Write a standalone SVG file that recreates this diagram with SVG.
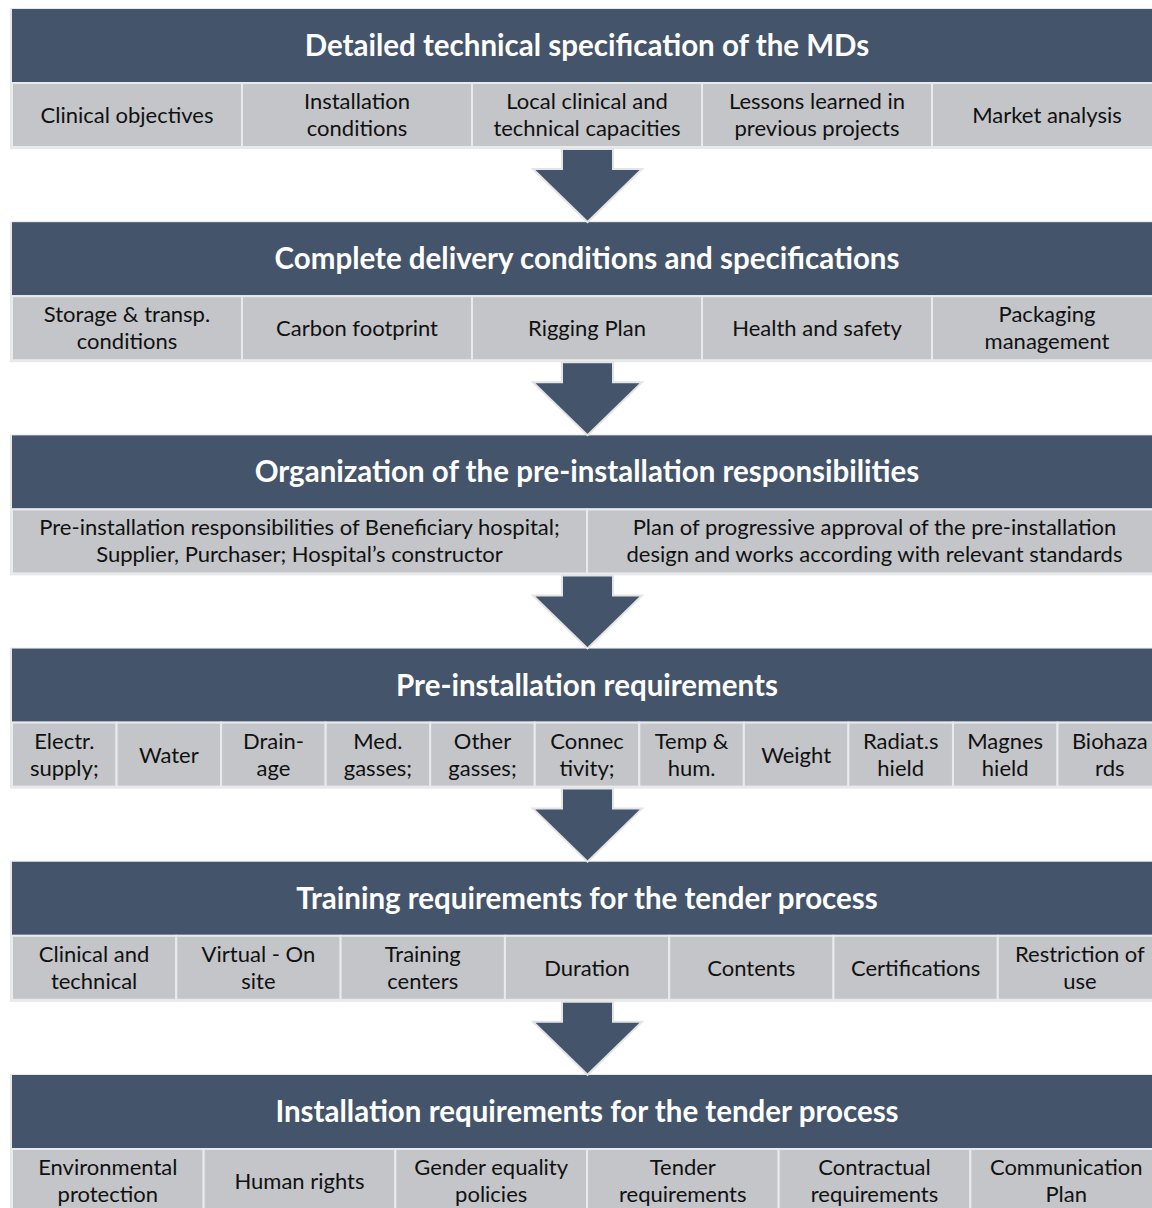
<svg xmlns="http://www.w3.org/2000/svg" width="1152" height="1208" viewBox="0 0 1152 1208">
<defs>
<style>
.frame{fill:#E6E7E9;}
.hdr{fill:#44546A;}
.cell{fill:#C3C5C9;stroke:#E9EAEC;stroke-width:2;}
.ht{font-family:Lato,"Open Sans",sans-serif;font-weight:700;font-size:29.5px;fill:#FFFFFF;text-anchor:middle;}
.ct{font-family:Lato,"Open Sans",sans-serif;font-size:22px;fill:#111111;text-anchor:middle;}
.arrow{fill:#44546A;stroke:#E3E4E6;stroke-width:2;stroke-linejoin:miter;}
</style>
</defs>
<rect width="1152" height="1208" fill="#FFFFFF"/>

<!-- Block 1 -->
<g id="block1">
<rect class="frame" x="10" y="8" width="1160" height="141"/>
<g id="b1-header"><rect class="hdr" x="12" y="9" width="1150" height="73"/><text class="ht" x="587" y="56">Detailed technical specification of the MDs</text></g>
<g id="b1-c1"><rect class="cell" x="12" y="83" width="230" height="64"/><text class="ct" x="127" y="123">Clinical objectives</text></g>
<g id="b1-c2"><rect class="cell" x="242" y="83" width="230" height="64"/><text class="ct" x="357" y="109">Installation</text><text class="ct" x="357" y="136">conditions</text></g>
<g id="b1-c3"><rect class="cell" x="472" y="83" width="230" height="64"/><text class="ct" x="587" y="109">Local clinical and</text><text class="ct" x="587" y="136">technical capacities</text></g>
<g id="b1-c4"><rect class="cell" x="702" y="83" width="230" height="64"/><text class="ct" x="817" y="109">Lessons learned in</text><text class="ct" x="817" y="136">previous projects</text></g>
<g id="b1-c5"><rect class="cell" x="932" y="83" width="230" height="64"/><text class="ct" x="1047" y="123">Market analysis</text></g>
</g>

<!-- Block 2 -->
<g id="block2" transform="translate(0,213.2)">
<rect class="frame" x="10" y="8" width="1160" height="141"/>
<g id="b2-header"><rect class="hdr" x="12" y="9" width="1150" height="73"/><text class="ht" x="587" y="56">Complete delivery conditions and specifications</text></g>
<g id="b2-c1"><rect class="cell" x="12" y="83" width="230" height="64"/><text class="ct" x="127" y="109">Storage &amp; transp.</text><text class="ct" x="127" y="136">conditions</text></g>
<g id="b2-c2"><rect class="cell" x="242" y="83" width="230" height="64"/><text class="ct" x="357" y="123">Carbon footprint</text></g>
<g id="b2-c3"><rect class="cell" x="472" y="83" width="230" height="64"/><text class="ct" x="587" y="123">Rigging Plan</text></g>
<g id="b2-c4"><rect class="cell" x="702" y="83" width="230" height="64"/><text class="ct" x="817" y="123">Health and safety</text></g>
<g id="b2-c5"><rect class="cell" x="932" y="83" width="230" height="64"/><text class="ct" x="1047" y="109">Packaging</text><text class="ct" x="1047" y="136">management</text></g>
</g>

<!-- Block 3 -->
<g id="block3" transform="translate(0,426.4)">
<rect class="frame" x="10" y="8" width="1160" height="141"/>
<g id="b3-header"><rect class="hdr" x="12" y="9" width="1150" height="73"/><text class="ht" x="587" y="56">Organization of the pre-installation responsibilities</text></g>
<g id="b3-c1"><rect class="cell" x="12" y="83" width="575" height="64"/><text class="ct" x="299.5" y="109">Pre-installation responsibilities of Beneficiary hospital;</text><text class="ct" x="299.5" y="136">Supplier, Purchaser; Hospital’s constructor</text></g>
<g id="b3-c2"><rect class="cell" x="587" y="83" width="575" height="64"/><text class="ct" x="874.5" y="109">Plan of progressive approval of the pre-installation</text><text class="ct" x="874.5" y="136">design and works according with relevant standards</text></g>
</g>

<!-- Block 4 -->
<g id="block4" transform="translate(0,639.6)">
<rect class="frame" x="10" y="8" width="1160" height="141"/>
<g id="b4-header"><rect class="hdr" x="12" y="9" width="1150" height="73"/><text class="ht" x="587" y="56">Pre-installation requirements</text></g>
<g id="b4-c1"><rect class="cell" x="12" y="83" width="104.55" height="64"/><text class="ct" x="64.3" y="109">Electr.</text><text class="ct" x="64.3" y="136">supply;</text></g>
<g id="b4-c2"><rect class="cell" x="116.55" y="83" width="104.55" height="64"/><text class="ct" x="168.8" y="123">Water</text></g>
<g id="b4-c3"><rect class="cell" x="221.1" y="83" width="104.55" height="64"/><text class="ct" x="273.4" y="109">Drain-</text><text class="ct" x="273.4" y="136">age</text></g>
<g id="b4-c4"><rect class="cell" x="325.65" y="83" width="104.55" height="64"/><text class="ct" x="377.9" y="109">Med.</text><text class="ct" x="377.9" y="136">gasses;</text></g>
<g id="b4-c5"><rect class="cell" x="430.2" y="83" width="104.55" height="64"/><text class="ct" x="482.5" y="109">Other</text><text class="ct" x="482.5" y="136">gasses;</text></g>
<g id="b4-c6"><rect class="cell" x="534.75" y="83" width="104.55" height="64"/><text class="ct" x="587" y="109">Connec</text><text class="ct" x="587" y="136">tivity;</text></g>
<g id="b4-c7"><rect class="cell" x="639.3" y="83" width="104.55" height="64"/><text class="ct" x="691.6" y="109">Temp &amp;</text><text class="ct" x="691.6" y="136">hum.</text></g>
<g id="b4-c8"><rect class="cell" x="743.85" y="83" width="104.55" height="64"/><text class="ct" x="796.1" y="123">Weight</text></g>
<g id="b4-c9"><rect class="cell" x="848.4" y="83" width="104.55" height="64"/><text class="ct" x="900.7" y="109">Radiat.s</text><text class="ct" x="900.7" y="136">hield</text></g>
<g id="b4-c10"><rect class="cell" x="952.95" y="83" width="104.55" height="64"/><text class="ct" x="1005.2" y="109">Magnes</text><text class="ct" x="1005.2" y="136">hield</text></g>
<g id="b4-c11"><rect class="cell" x="1057.5" y="83" width="104.55" height="64"/><text class="ct" x="1109.8" y="109">Biohaza</text><text class="ct" x="1109.8" y="136">rds</text></g>
</g>

<!-- Block 5 -->
<g id="block5" transform="translate(0,852.8)">
<rect class="frame" x="10" y="8" width="1160" height="141"/>
<g id="b5-header"><rect class="hdr" x="12" y="9" width="1150" height="73"/><text class="ht" x="587" y="56">Training requirements for the tender process</text></g>
<g id="b5-c1"><rect class="cell" x="12" y="83" width="164.3" height="64"/><text class="ct" x="94.1" y="109">Clinical and</text><text class="ct" x="94.1" y="136">technical</text></g>
<g id="b5-c2"><rect class="cell" x="176.3" y="83" width="164.3" height="64"/><text class="ct" x="258.4" y="109">Virtual - On</text><text class="ct" x="258.4" y="136">site</text></g>
<g id="b5-c3"><rect class="cell" x="340.6" y="83" width="164.3" height="64"/><text class="ct" x="422.7" y="109">Training</text><text class="ct" x="422.7" y="136">centers</text></g>
<g id="b5-c4"><rect class="cell" x="504.9" y="83" width="164.3" height="64"/><text class="ct" x="587" y="123">Duration</text></g>
<g id="b5-c5"><rect class="cell" x="669.2" y="83" width="164.3" height="64"/><text class="ct" x="751.3" y="123">Contents</text></g>
<g id="b5-c6"><rect class="cell" x="833.5" y="83" width="164.3" height="64"/><text class="ct" x="915.6" y="123">Certifications</text></g>
<g id="b5-c7"><rect class="cell" x="997.8" y="83" width="164.3" height="64"/><text class="ct" x="1079.9" y="109">Restriction of</text><text class="ct" x="1079.9" y="136">use</text></g>
</g>

<!-- Block 6 -->
<g id="block6" transform="translate(0,1066)">
<rect class="frame" x="10" y="8" width="1160" height="141"/>
<g id="b6-header"><rect class="hdr" x="12" y="9" width="1150" height="73"/><text class="ht" x="587" y="56">Installation requirements for the tender process</text></g>
<g id="b6-c1"><rect class="cell" x="12" y="83" width="191.67" height="64"/><text class="ct" x="107.8" y="109">Environmental</text><text class="ct" x="107.8" y="136">protection</text></g>
<g id="b6-c2"><rect class="cell" x="203.67" y="83" width="191.67" height="64"/><text class="ct" x="299.5" y="123">Human rights</text></g>
<g id="b6-c3"><rect class="cell" x="395.33" y="83" width="191.67" height="64"/><text class="ct" x="491.2" y="109">Gender equality</text><text class="ct" x="491.2" y="136">policies</text></g>
<g id="b6-c4"><rect class="cell" x="587" y="83" width="191.67" height="64"/><text class="ct" x="682.8" y="109">Tender</text><text class="ct" x="682.8" y="136">requirements</text></g>
<g id="b6-c5"><rect class="cell" x="778.67" y="83" width="191.67" height="64"/><text class="ct" x="874.5" y="109">Contractual</text><text class="ct" x="874.5" y="136">requirements</text></g>
<g id="b6-c6"><rect class="cell" x="970.33" y="83" width="191.67" height="64"/><text class="ct" x="1066.2" y="109">Communication</text><text class="ct" x="1066.2" y="136">Plan</text></g>
</g>

<!-- Connectors -->
<g id="connectors">
<path class="arrow" d="M562,149 L613,149 L613,169 L642,169 L587.5,222 L533,169 L562,169 Z"/>
<path class="arrow" transform="translate(0,213.2)" d="M562,149 L613,149 L613,169 L642,169 L587.5,222 L533,169 L562,169 Z"/>
<path class="arrow" transform="translate(0,426.4)" d="M562,149 L613,149 L613,169 L642,169 L587.5,222 L533,169 L562,169 Z"/>
<path class="arrow" transform="translate(0,639.6)" d="M562,149 L613,149 L613,169 L642,169 L587.5,222 L533,169 L562,169 Z"/>
<path class="arrow" transform="translate(0,852.8)" d="M562,149 L613,149 L613,169 L642,169 L587.5,222 L533,169 L562,169 Z"/>
</g>
</svg>
